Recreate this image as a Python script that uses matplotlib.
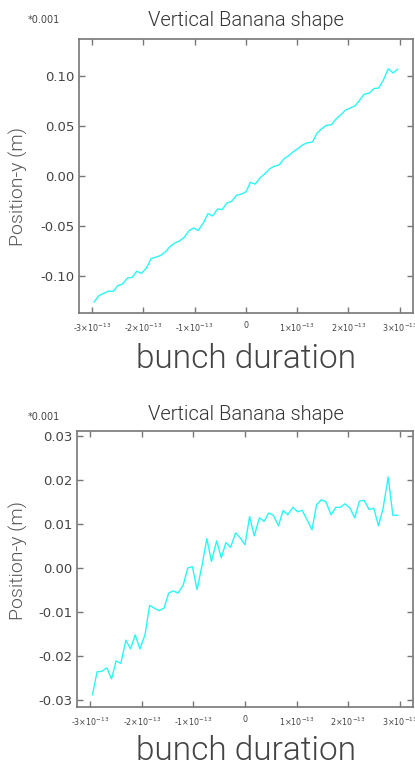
import numpy as np
import matplotlib
matplotlib.use('Agg')
import matplotlib.pyplot as plt
from matplotlib.ticker import FuncFormatter

# bunch slice times (units of 1e-13 s)
times = [-2.96, -2.87, -2.78, -2.68, -2.59, -2.50, -2.41, -2.31, -2.22, -2.13,
         -2.04, -1.94, -1.85, -1.76, -1.67, -1.57, -1.48, -1.39, -1.30, -1.20,
         -1.11, -1.02, -0.93, -0.83, -0.74, -0.65, -0.55, -0.46, -0.37, -0.28,
         -0.18, -0.09, 0.00, 0.09, 0.18, 0.28, 0.37, 0.46, 0.55, 0.65,
         0.74, 0.83, 0.93, 1.02, 1.11, 1.20, 1.30, 1.39, 1.48, 1.57,
         1.67, 1.76, 1.85, 1.94, 2.04, 2.13, 2.22, 2.31, 2.41, 2.50,
         2.59, 2.68, 2.78, 2.87, 2.96]

# centroid y of each slice, first case (units of 1e-3 m)
pos_y_a = [-0.1262, -0.1200, -0.1178, -0.1154, -0.1158, -0.1100, -0.1084, -0.1023, -0.1017, -0.0956,
           -0.0977, -0.0923, -0.0829, -0.0815, -0.0799, -0.0762, -0.0708, -0.0674, -0.0654, -0.0614,
           -0.0550, -0.0523, -0.0547, -0.0473, -0.0379, -0.0403, -0.0332, -0.0339, -0.0272, -0.0258,
           -0.0195, -0.0185, -0.0161, -0.0067, -0.0084, -0.0020, 0.0020, 0.0067, 0.0094, 0.0107,
           0.0168, 0.0198, 0.0242, 0.0272, 0.0309, 0.0329, 0.0336, 0.0426, 0.0470, 0.0503,
           0.0510, 0.0567, 0.0607, 0.0654, 0.0678, 0.0698, 0.0755, 0.0815, 0.0826, 0.0872,
           0.0876, 0.0953, 0.1070, 0.1027, 0.1064]

# centroid y of each slice, second case (units of 1e-3 m)
pos_y_b = [-0.0288, -0.0236, -0.0235, -0.0227, -0.0252, -0.0211, -0.0217, -0.0164, -0.0184, -0.0152,
           -0.0184, -0.0152, -0.0085, -0.0091, -0.0097, -0.0091, -0.0057, -0.0052, -0.0057, -0.0039,
           0.0000, 0.0003, -0.0049, 0.0008, 0.0067, 0.0015, 0.0062, 0.0023, 0.0058, 0.0047,
           0.0080, 0.0068, 0.0053, 0.0117, 0.0073, 0.0114, 0.0106, 0.0125, 0.0120, 0.0096,
           0.0131, 0.0121, 0.0138, 0.0128, 0.0131, 0.0111, 0.0087, 0.0144, 0.0155, 0.0151,
           0.0121, 0.0138, 0.0138, 0.0146, 0.0136, 0.0114, 0.0152, 0.0154, 0.0133, 0.0136,
           0.0096, 0.0136, 0.0207, 0.0120, 0.0120]

x_ticks = [-3, -2, -1, 0, 1, 2, 3]

AXCOL = '#777777'
TXTCOL = '#444444'
LIGHT = dict(family=['Roboto', 'DejaVu Sans'], fontweight=300)


def time_label(v, pos):
    n = int(round(v))
    if n == 0:
        return '0'
    return '%d' % n + r'$\times$10$^{-13}$'


def banana_panel(fig, rect, ydata, ylim, yticks, fmt):
    ax = fig.add_axes(rect)
    ax.plot(times, ydata, color='#2af6f6', linewidth=1.0)
    ax.set_xlim(-3.26, 3.26)
    ax.set_ylim(*ylim)
    ax.set_xticks(x_ticks)
    ax.set_yticks(yticks)
    ax.xaxis.set_major_formatter(FuncFormatter(time_label))
    ax.yaxis.set_major_formatter(FuncFormatter(lambda v, p: (fmt % v).replace('\u2212', '-')))
    ax.tick_params(direction='in', length=4, width=1, color=AXCOL,
                   top=True, right=True, labelcolor=TXTCOL)
    ax.tick_params(axis='x', labelsize=5.8, pad=6)
    ax.tick_params(axis='y', labelsize=9.5, pad=3)
    for s in ax.spines.values():
        s.set_color(AXCOL)
        s.set_linewidth(1.2)
    return ax


fig = plt.figure(figsize=(4.15, 7.66), dpi=100)

# upper panel
banana_panel(fig, [0.190, 0.5914, 0.805, 0.3577], pos_y_a, (-0.1373, 0.1367),
             [-0.10, -0.05, 0.00, 0.05, 0.10], '%.2f')
fig.text(0.593, 1 - 21 / 766, 'Vertical Banana shape', ha='center', va='center',
         fontsize=14.5, color='#333333', **LIGHT)
fig.text(0.105, 1 - 20 / 766, '*0.001', ha='center', va='center', fontsize=7, color=TXTCOL)
fig.text(0.045, 1 - 186 / 766, 'Position-y (m)', rotation=90, ha='center', va='center',
         fontsize=14, color='#555555', **LIGHT)
fig.text(0.593, 1 - 368 / 766, 'bunch duration', ha='center', va='baseline',
         fontsize=24, color='#444444', **LIGHT)

# lower panel
banana_panel(fig, [0.1855, 0.077, 0.8096, 0.360], pos_y_b, (-0.0316, 0.0311),
             [-0.03, -0.02, -0.01, 0.00, 0.01, 0.02, 0.03], '%.2f')
fig.text(0.593, 1 - 414 / 766, 'Vertical Banana shape', ha='center', va='center',
         fontsize=14.5, color='#333333', **LIGHT)
fig.text(0.105, 1 - 417 / 766, '*0.001', ha='center', va='center', fontsize=7, color=TXTCOL)
fig.text(0.045, 1 - 560 / 766, 'Position-y (m)', rotation=90, ha='center', va='center',
         fontsize=14, color='#555555', **LIGHT)
fig.text(0.593, 1 - 760 / 766, 'bunch duration', ha='center', va='baseline',
         fontsize=24, color='#444444', **LIGHT)

fig.savefig('out.png', dpi=100)
